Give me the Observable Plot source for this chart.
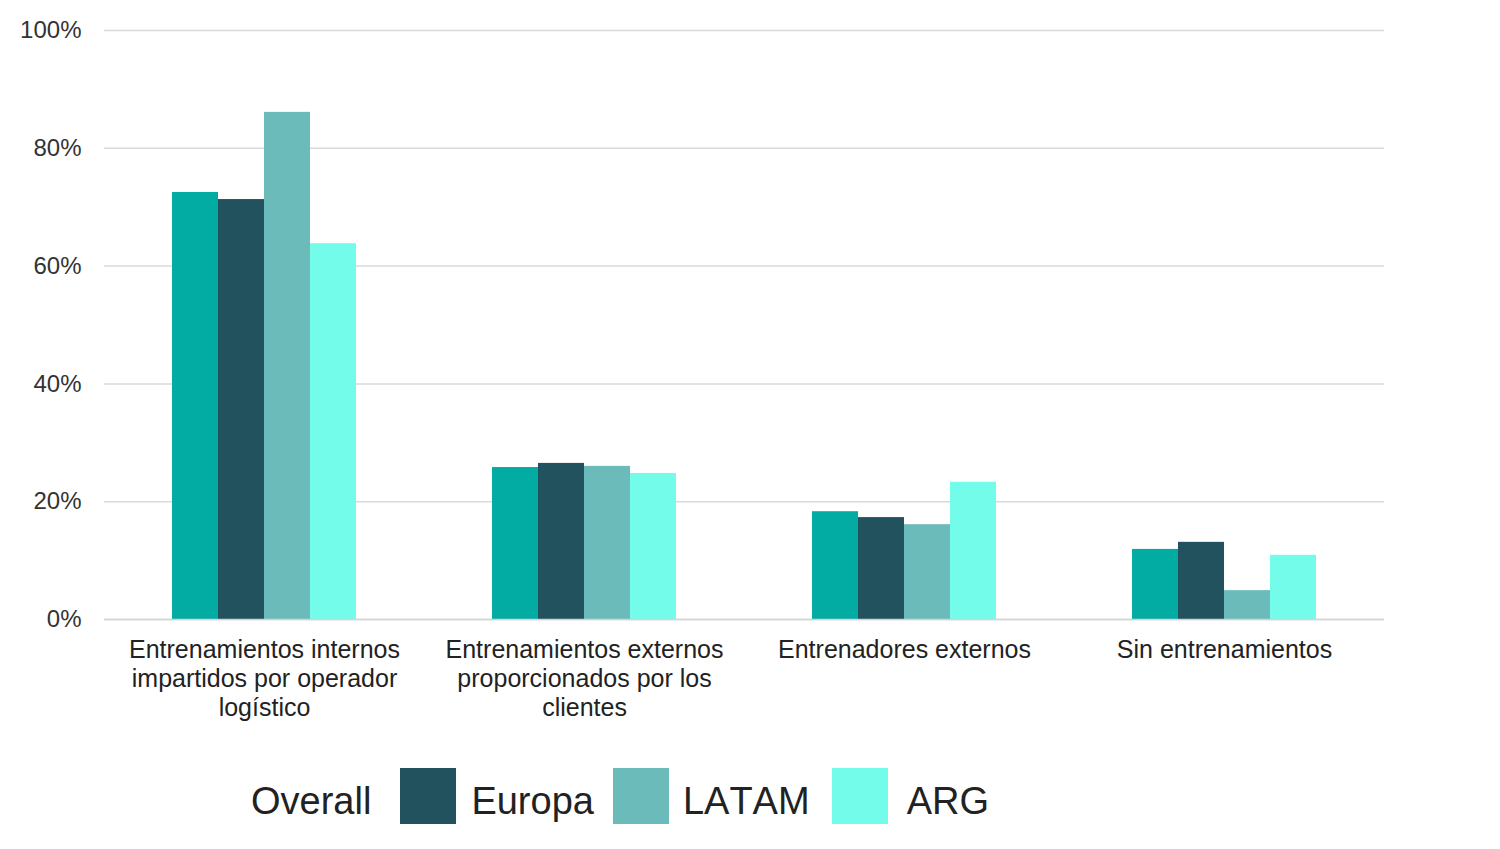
<!DOCTYPE html>
<html>
<head>
<meta charset="utf-8">
<script src="https://cdn.jsdelivr.net/npm/d3@7"></script>
<script src="https://cdn.jsdelivr.net/npm/@observablehq/plot@0.6"></script>
<style>
  html, body { margin: 0; padding: 0; background: #fff; }
  body { width: 1500px; height: 849px; overflow: hidden; font-family: "Liberation Sans", Arial, sans-serif; font-kerning: none; }
  #legend { display: flex; align-items: center; padding-left: 180px; padding-top: 28px; color: #222; font-size: 38px; font-kerning: none; }
  #legend .sw { width: 56px; height: 56px; }
  #legend .lb { position: relative; top: 5px; }
  svg text { font-kerning: none; }
</style>
</head>
<body>
<div id="chart"></div>
<script>
const categories = [
  "Entrenamientos internos impartidos por operador logístico",
  "Entrenamientos externos proporcionados por los clientes",
  "Entrenadores externos",
  "Sin entrenamientos"
];
const tickLabels = [
  "Entrenamientos internos\nimpartidos por operador\nlogístico",
  "Entrenamientos externos\nproporcionados por los\nclientes",
  "Entrenadores externos",
  "Sin entrenamientos"
];
const series = ["Overall", "Europa", "LATAM", "ARG"];
const colors = ["#02aca2", "#22525e", "#6cbbbb", "#73fcea"];
const overall = [72.5, 25.8, 18.3, 11.9];
const europa  = [71.3, 26.5, 17.3, 13.1];
const latam   = [86.1, 26.0, 16.1, 4.9];
const arg     = [63.8, 24.8, 23.3, 10.9];
const yTicks = [0, 20, 40, 60, 80, 100];

const values = [overall, europa, latam, arg];
const data = [];
categories.forEach((c, i) => series.forEach((s, j) => data.push({category: c, series: s, value: values[j][i]})));
const labelOf = new Map(categories.map((c, i) => [c, tickLabels[i]]));

const chart = Plot.plot({
  width: 1500,
  height: 740,
  marginTop: 30,
  marginBottom: 121,
  marginLeft: 104,
  marginRight: 116,
  style: {fontFamily: "'Liberation Sans', Arial, sans-serif", color: "#333", background: "#fff"},
  fx: {domain: categories, padding: 0, label: null},
  x: {domain: series, paddingInner: 0, paddingOuter: 1.478, axis: null},
  y: {domain: [0, 100], label: null},
  color: {domain: series, range: colors},
  marks: [
    Plot.gridY(yTicks, {stroke: "#d9d9d9", strokeOpacity: 1, strokeWidth: 1.5}),
    Plot.barY(data, {fx: "category", x: "series", y: "value", fill: "series"}),
    Plot.ruleY([0], {stroke: "#d4d4d4", strokeWidth: 1.5}),
    Plot.axisY(yTicks, {tickSize: 0, tickPadding: 23, fontSize: 24, fill: "#333", tickFormat: d => d + "%", label: null}),
    Plot.axisFx({anchor: "bottom", tickSize: 0, tickPadding: 18, fontSize: 25, lineHeight: 1.16, fill: "#222", label: null, tickFormat: d => labelOf.get(d)})
  ]
});
document.getElementById("chart").appendChild(chart);

const swGap = [15, 15, 14, 19];
const lbGap = [29, 19, 22, 0];
const legend = document.createElement("div");
legend.id = "legend";
series.forEach((s, i) => {
  const sw = document.createElement("div");
  sw.className = "sw";
  sw.style.background = i === 0 ? "#fff" : colors[i];
  sw.style.marginRight = swGap[i] + "px";
  const lb = document.createElement("span");
  lb.className = "lb";
  lb.textContent = s;
  lb.style.marginRight = lbGap[i] + "px";
  legend.appendChild(sw);
  legend.appendChild(lb);
});
document.body.appendChild(legend);
</script>
</body>
</html>
